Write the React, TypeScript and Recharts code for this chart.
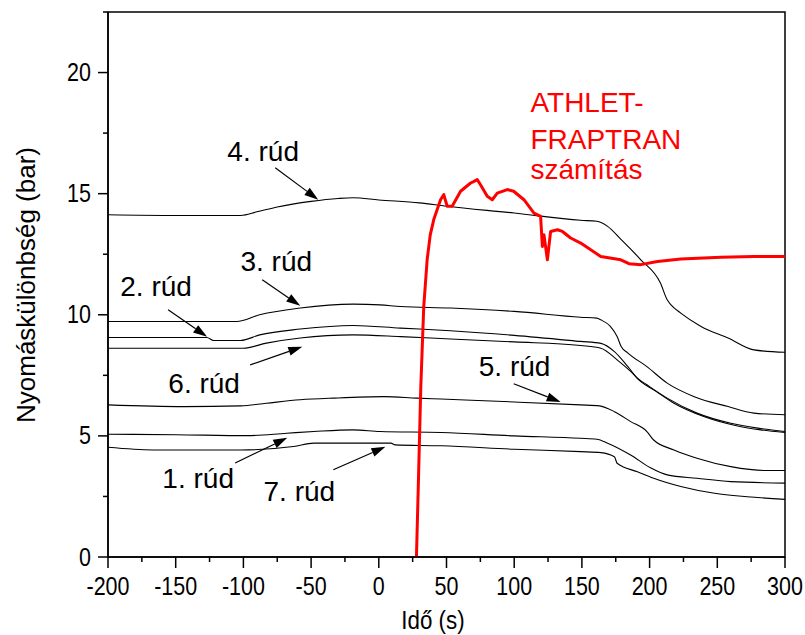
import {
  LineChart,
  Line,
  XAxis,
  YAxis,
  ReferenceLine,
  ReferenceDot,
  ReferenceArea,
  Label,
} from 'recharts';

type Pt = [number, number];

// measured pressure difference per rod: [time (s), dp (bar)]
const rod1: Pt[] = [
  [-200, 5.07], [-150, 5.05], [-97, 5.01], [-68, 5.11], [-48, 5.18], [-19, 5.25], [1, 5.18],
  [46, 5.14], [100, 5.0], [149, 4.9], [161, 4.86], [169, 4.7], [186, 4.21], [201, 3.67],
  [213, 3.39], [235, 3.25], [260, 3.11], [300, 3.05],
];
const rod2: Pt[] = [
  [-200, 9.06], [-127, 9.06], [-122, 8.94], [-102, 8.94], [-88, 9.17], [-58, 9.41], [-19, 9.56],
  [16, 9.45], [53, 9.34], [100, 9.15], [149, 8.9], [164, 8.82], [174, 8.48], [184, 7.86],
  [191, 7.38], [198, 7.11], [213, 6.56], [235, 5.94], [260, 5.52], [280, 5.32], [300, 5.18],
];
const rod3: Pt[] = [
  [-200, 9.72], [-105, 9.72], [-88, 10.0], [-58, 10.28], [-19, 10.44], [1, 10.41], [16, 10.34],
  [53, 10.28], [100, 10.14], [149, 9.9], [161, 9.86], [164, 9.79], [171, 9.52], [176, 9.1],
  [179, 8.69], [184, 8.42], [198, 7.86], [213, 7.18], [233, 6.62], [258, 6.21], [277, 5.94],
  [300, 5.87],
];
const rod4: Pt[] = [
  [-200, 14.13], [-150, 14.1], [-102, 14.1], [-90, 14.25], [-75, 14.45], [-50, 14.68],
  [-30, 14.8], [-19, 14.83], [0, 14.74], [30, 14.62], [50, 14.48], [100, 14.2], [149, 13.9],
  [161, 13.86], [169, 13.65], [179, 13.1], [193.5, 12.27], [208, 11.31], [213, 10.62],
  [216, 10.4], [223, 10.07], [238, 9.52], [258, 9.04], [277, 8.55], [300, 8.45],
];
const rod5: Pt[] = [
  [-200, 6.28], [-144, 6.21], [-102, 6.24], [-83, 6.35], [-58, 6.49], [-33, 6.56], [4, 6.62],
  [28, 6.56], [46, 6.52], [100, 6.4], [149, 6.28], [163, 6.24], [174, 6.0], [186, 5.59],
  [198, 5.18], [203, 4.83], [218, 4.42], [235, 4.08], [260, 3.73], [285, 3.57], [300, 3.57],
];
const rod6: Pt[] = [
  [-200, 8.62], [-100, 8.62], [-83, 8.83], [-58, 9.04], [-19, 9.17], [16, 9.1], [53, 9.0],
  [100, 8.88], [149, 8.73], [164, 8.62], [176, 8.14], [186, 7.66], [193.5, 7.24], [203, 6.9],
  [218, 6.35], [240, 5.8], [265, 5.41], [282, 5.25], [300, 5.14],
];
const rod7: Pt[] = [
  [-200, 4.53], [-167, 4.42], [-102, 4.42], [-63, 4.56], [-48, 4.7], [9, 4.7], [12, 4.63],
  [46, 4.59], [100, 4.45], [149, 4.35], [164, 4.31], [174, 4.14], [176, 3.87], [191, 3.52],
  [203, 3.25], [223, 2.91], [248, 2.63], [272, 2.49], [300, 2.38],
];

// ATHLET-FRAPTRAN calculation
const calc: Pt[] = [
  [27.8, 0], [29.3, 3.2], [31, 7], [33.2, 10.34], [35.7, 12.27], [38, 13.3], [40.6, 13.93],
  [45.6, 14.75], [48, 14.96], [50.5, 14.48], [54.2, 14.48], [60.4, 15.1], [67.8, 15.44],
  [70, 15.5], [72.7, 15.58], [75.1, 15.37], [80.1, 14.89], [83.8, 14.75], [87.5, 15.02],
  [94.9, 15.17], [99.6, 15.1], [107.2, 14.75], [114.6, 14.2], [119.5, 14.06], [120.8, 12.82],
  [122, 13.3], [124.5, 12.27], [126.9, 13.44], [131.9, 13.51], [135.6, 13.44], [141.7, 13.17],
  [149.1, 12.96], [163.9, 12.41], [178.7, 12.27], [184.8, 12.11], [193.5, 12.07],
  [205.8, 12.2], [223.1, 12.3], [252.7, 12.38], [277.1, 12.41], [300, 12.41],
];

const rods = [rod1, rod2, rod3, rod4, rod5, rod6, rod7];

const xTicks = [
  -200, -175, -150, -125, -100, -75, -50, -25, 0, 25, 50, 75, 100, 125, 150, 175, 200, 225,
  250, 275, 300,
];
const yTicks = [0, 2.5, 5, 7.5, 10, 12.5, 15, 17.5, 20, 22.5];

const rodLabels = [
  { text: '4. rúd', x: -85.4, y: 16.74 },
  { text: '3. rúd', x: -75.7, y: 12.19 },
  { text: '2. rúd', x: -164.5, y: 11.16 },
  { text: '6. rúd', x: -129, y: 7.15 },
  { text: '5. rúd', x: 100.3, y: 7.85 },
  { text: '1. rúd', x: -133.4, y: 3.26 },
  { text: '7. rúd', x: -58.7, y: 2.69 },
];

const arrows: { from: Pt; to: Pt }[] = [
  { from: [-76.5, 16.07], to: [-44.7, 14.75] },
  { from: [-86.1, 11.45], to: [-58, 10.37] },
  { from: [-155.6, 10.21], to: [-126.8, 9.09] },
  { from: [-95, 7.93], to: [-56.5, 8.68] },
  { from: [99.6, 7.15], to: [134.3, 6.4] },
  { from: [-106.1, 3.88], to: [-67.6, 4.92] },
  { from: [-33.6, 3.6], to: [4.9, 4.55] },
];

const calcLabel = [
  { text: 'ATHLET-', y: 18.76 },
  { text: 'FRAPTRAN', y: 17.23 },
  { text: 'számítás', y: 15.99 },
];

const FONT = "'Liberation Sans', Arial, sans-serif";

const toRows = (pts: Pt[]) => pts.map(([t, p]) => ({ t, p }));

// slightly condensed text for the axis numbers
const NarrowText = ({ x, y, anchor, size, children }: any) => (
  <text
    transform={`translate(${x} ${y}) scale(0.86 1)`}
    textAnchor={anchor}
    dominantBaseline="central"
    fontSize={size}
    fontFamily={FONT}
    fill="#000"
  >
    {children}
  </text>
);

const XTick = ({ x, y, payload }: any) => {
  const major = payload.value % 50 === 0;
  return (
    <g>
      <line x1={x} y1={y} x2={x} y2={y + (major ? 11 : 5)} stroke="#000" strokeWidth={1.5} />
      {major && (
        <NarrowText x={x} y={y + 29} anchor="middle" size={25}>
          {payload.value}
        </NarrowText>
      )}
    </g>
  );
};

const YTick = ({ x, y, payload }: any) => {
  const major = payload.value % 5 === 0;
  return (
    <g>
      <line x1={x} y1={y} x2={x - (major ? 10 : 5)} y2={y} stroke="#000" strokeWidth={1.5} />
      {major && (
        <NarrowText x={x - 17} y={y} anchor="end" size={25}>
          {payload.value}
        </NarrowText>
      )}
    </g>
  );
};

const Arrow = ({ x1, y1, x2, y2 }: any) => {
  const a = Math.atan2(y2 - y1, x2 - x1);
  const len = 14;
  const half = 4.5;
  const bx = x2 - len * Math.cos(a);
  const by = y2 - len * Math.sin(a);
  const nx = -Math.sin(a) * half;
  const ny = Math.cos(a) * half;
  return (
    <g>
      <line x1={x1} y1={y1} x2={bx} y2={by} stroke="#000" strokeWidth={1.2} />
      <polygon points={`${x2},${y2} ${bx + nx},${by + ny} ${bx - nx},${by - ny}`} fill="#000" />
    </g>
  );
};

export default function App() {
  return (
    <div style={{ position: 'absolute', left: 0, top: 0, width: 805, height: 635, background: '#fff' }}>
      <LineChart width={805} height={635} margin={{ top: 12, right: 20, left: 0, bottom: 0 }}>
        <XAxis
          dataKey="t"
          type="number"
          domain={[-200, 300]}
          ticks={xTicks}
          interval={0}
          allowDataOverflow
          height={78}
          tickSize={0}
          tickMargin={0}
          tickLine={false}
          axisLine={{ stroke: '#000', strokeWidth: 1.5 }}
          tick={(p: any) => <XTick {...p} />}
        >
          <Label
            content={() => (
              <NarrowText x={433} y={620} anchor="middle" size={26}>
                Idő (s)
              </NarrowText>
            )}
          />
        </XAxis>
        <YAxis
          type="number"
          domain={[0, 22.5]}
          ticks={yTicks}
          interval={0}
          allowDataOverflow
          width={108}
          tickSize={0}
          tickMargin={0}
          tickLine={false}
          axisLine={{ stroke: '#000', strokeWidth: 1.5 }}
          tick={(p: any) => <YTick {...p} />}
        >
          <Label
            content={() => (
              <text
                x={26}
                y={285}
                transform="rotate(-90 26 285)"
                textAnchor="middle"
                dominantBaseline="central"
                fontSize={26}
                fontFamily={FONT}
                fill="#000"
              >
                Nyomáskülönbség (bar)
              </text>
            )}
          />
        </YAxis>
        <ReferenceArea x1={-200} x2={300} y1={0} y2={22.5} fill="none" stroke="#000" strokeWidth={1.5} />
        {rods.map((r, i) => (
          <Line
            key={`rod-${i}`}
            data={toRows(r)}
            dataKey="p"
            type="monotone"
            dot={false}
            stroke="#000"
            strokeWidth={1.1}
            isAnimationActive={false}
          />
        ))}
        <Line
          data={toRows(calc)}
          dataKey="p"
          type="linear"
          dot={false}
          stroke="#ff0000"
          strokeWidth={3}
          strokeLinejoin="round"
          isAnimationActive={false}
        />
        {arrows.map((a, i) => (
          <ReferenceLine
            key={`arrow-${i}`}
            segment={[
              { x: a.from[0], y: a.from[1] },
              { x: a.to[0], y: a.to[1] },
            ]}
            shape={(p: any) => <Arrow {...p} />}
          />
        ))}
        {rodLabels.map((l) => (
          <ReferenceDot
            key={l.text}
            x={l.x}
            y={l.y}
            r={0}
            shape={(p: any) => (
              <text x={p.cx} y={p.cy} textAnchor="middle" dominantBaseline="central" fontSize={28} fontFamily={FONT} fill="#000">
                {l.text}
              </text>
            )}
          />
        ))}
        {calcLabel.map((l) => (
          <ReferenceDot
            key={l.text}
            x={112}
            y={l.y}
            r={0}
            shape={(p: any) => (
              <text x={p.cx} y={p.cy} textAnchor="start" dominantBaseline="central" fontSize={28} fontFamily={FONT} fill="#ff0000">
                {l.text}
              </text>
            )}
          />
        ))}
      </LineChart>
    </div>
  );
}
